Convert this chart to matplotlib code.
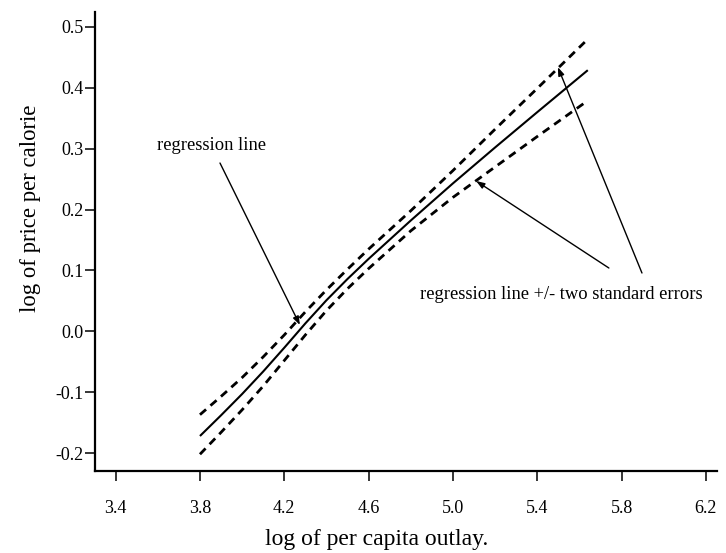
import matplotlib
matplotlib.use("Agg")
import matplotlib.pyplot as plt

# ---- data ----
x_vals = [3.80, 3.90, 4.00, 4.10, 4.20, 4.30, 4.40, 4.50, 4.60, 4.80, 5.00, 5.20, 5.40, 5.64]
reg_line = [-0.172, -0.138, -0.103, -0.066, -0.027, 0.013, 0.051, 0.086, 0.119,
            0.182, 0.243, 0.302, 0.360, 0.429]
upper_2se = [-0.137, -0.107, -0.076, -0.042, -0.006, 0.032, 0.068, 0.102, 0.135,
             0.198, 0.264, 0.332, 0.399, 0.480]
lower_2se = [-0.202, -0.166, -0.129, -0.090, -0.048, -0.006, 0.034, 0.070, 0.103,
             0.165, 0.220, 0.270, 0.320, 0.379]

x_ticks = [3.4, 3.8, 4.2, 4.6, 5.0, 5.4, 5.8, 6.2]
x_tick_labels = ["3.4", "3.8", "4.2", "4.6", "5.0", "5.4", "5.8", "6.2"]
y_ticks = [-0.2, -0.1, 0.0, 0.1, 0.2, 0.3, 0.4, 0.5]
y_tick_labels = ["-0.2", "-0.1", "0.0", "0.1", "0.2", "0.3", "0.4", "0.5"]

label_reg = "regression line"
label_band = "regression line +/- two standard errors"
xlabel = "log of per capita outlay."
ylabel = "log of price per calorie"

# annotation anchor points (data coords)
reg_text_xy = (3.596, 0.3045)
reg_arrow_from = (3.895, 0.2765)
reg_arrow_to = (4.274, 0.0104)
band_text_xy = (4.844, 0.061)
band_arrow_lower_from = (5.740, 0.104)
band_arrow_lower_to = (5.11, 0.247)
band_arrow_upper_from = (5.897, 0.0958)
band_arrow_upper_to = (5.498, 0.434)

serif = ["Liberation Serif", "DejaVu Serif"]
plt.rcParams["font.family"] = serif

fig = plt.figure(figsize=(7.26, 5.53), dpi=100)
ax = fig.add_axes([95 / 726, (553 - 471) / 553, (717 - 95) / 726, (471 - 12) / 553])

ax.plot(x_vals, reg_line, color="black", lw=1.5, solid_capstyle="butt", solid_joinstyle="round")
ax.plot(x_vals, upper_2se, color="black", lw=2.0, dashes=(2.9, 2.1))
ax.plot(x_vals, lower_2se, color="black", lw=2.0, dashes=(2.9, 2.1))

ax.set_xlim(3.302, 6.253)
ax.set_ylim(-0.2295, 0.5246)

for s in ["top", "right"]:
    ax.spines[s].set_visible(False)
for s in ["left", "bottom"]:
    ax.spines[s].set_linewidth(1.6)

ax.set_xticks(x_ticks)
ax.set_xticklabels(x_tick_labels)
ax.set_yticks(y_ticks)
ax.set_yticklabels(y_tick_labels)
ax.tick_params(axis="x", direction="out", length=7, width=1.1, pad=14, labelsize=13)
ax.tick_params(axis="y", direction="out", length=7, width=1.1, pad=1, labelsize=13)

arrow_kw = dict(arrowstyle="-|>,head_length=0.5,head_width=0.18", color="black", lw=1.0,
                shrinkA=0, shrinkB=0)
ax.text(*reg_text_xy, label_reg, fontsize=13.3, ha="left", va="center")
ax.annotate("", xy=reg_arrow_to, xytext=reg_arrow_from, arrowprops=arrow_kw)
ax.text(*band_text_xy, label_band, fontsize=13.3, ha="left", va="center")
ax.annotate("", xy=band_arrow_lower_to, xytext=band_arrow_lower_from, arrowprops=arrow_kw)
ax.annotate("", xy=band_arrow_upper_to, xytext=band_arrow_upper_from, arrowprops=arrow_kw)

fig.text(31 / 726, 1 - 208 / 553, ylabel, rotation=90, ha="center", va="center", fontsize=16.4)
fig.text(377 / 726, 1 - 539 / 553, xlabel, ha="center", va="center", fontsize=17)

fig.savefig("out.png", dpi=100)
